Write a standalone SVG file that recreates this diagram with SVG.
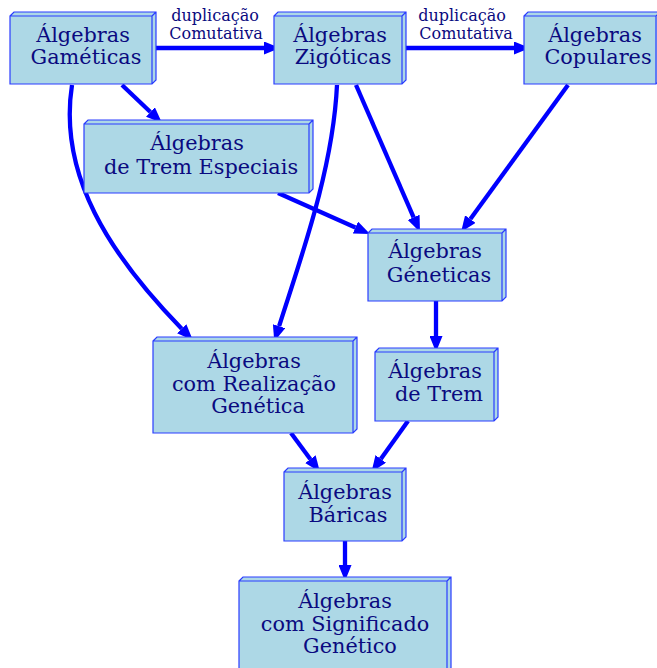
<svg xmlns="http://www.w3.org/2000/svg" width="657" height="668" viewBox="0 0 657 668">
<style>
.box{fill:#add8e6;stroke:#2a3cff;stroke-width:1.2;stroke-linejoin:miter}
.t{font-family:"DejaVu Serif",serif;font-size:20.8px;fill:#0a0a80;text-anchor:middle}
.lbl{font-family:"DejaVu Serif",serif;font-size:16px;fill:#0a0a80;text-anchor:middle}
.e{fill:none;stroke:#0000ff;stroke-width:4.3}
</style>
<defs>
<marker id="ah" markerUnits="userSpaceOnUse" markerWidth="16" markerHeight="13" viewBox="0 0 16 13" refX="0" refY="6.5" orient="auto">
<path d="M0,0 L16,6.5 L0,13 z" fill="#0000ff"/>
</marker>
</defs>
<g id="edges">
<path class="e" marker-end="url(#ah)" d="M155,48 L264,48"/>
<path class="e" marker-end="url(#ah)" d="M406,48 L514,48"/>
<path class="e" marker-end="url(#ah)" d="M122,85 L150.4,112"/>
<path class="e" marker-end="url(#ah)" d="M356,85 L413.6,217.3"/>
<path class="e" marker-end="url(#ah)" d="M568,85 L470.4,219.1"/>
<path class="e" marker-end="url(#ah)" d="M278,193 L355.4,227.5"/>
<path class="e" marker-end="url(#ah)" d="M436,301 L436,336"/>
<path class="e" marker-end="url(#ah)" d="M291,433 L310.4,459.2"/>
<path class="e" marker-end="url(#ah)" d="M408,421 L380.8,458.9"/>
<path class="e" marker-end="url(#ah)" d="M345,541 L345,565"/>
<path class="e" marker-end="url(#ah)" d="M72,85 C58,175 110,255 181.7,328.7"/>
<path class="e" marker-end="url(#ah)" d="M337,85 C333,170 300,260 279.1,326.2"/>
<text class="lbl" x="215" y="21">duplicação</text>
<text class="lbl" x="216" y="39">Comutativa</text>
<text class="lbl" x="462" y="21">duplicação</text>
<text class="lbl" x="466" y="39">Comutativa</text>
</g>
<g id="gameticas">
<path class="box" d="M10,16 L14,12 L156,12 L156,80 L152,84 L10,84 Z M152,16 L156,12 M10,16 L152,16 L152,84"/>
<text class="t" x="83" y="42">Álgebras</text>
<text class="t" x="86" y="64">Gaméticas</text>
</g>
<g id="zigoticas">
<path class="box" d="M274,16 L278,12 L406,12 L406,80 L402,84 L274,84 Z M402,16 L406,12 M274,16 L402,16 L402,84"/>
<text class="t" x="340" y="42">Álgebras</text>
<text class="t" x="343" y="64">Zigóticas</text>
</g>
<g id="copulares">
<path class="box" d="M524,16 L528,12 L660,12 L660,80 L656,84 L524,84 Z M656,16 L660,12 M524,16 L656,16 L656,84"/>
<text class="t" x="595" y="42">Álgebras</text>
<text class="t" x="598" y="64">Copulares</text>
</g>
<g id="tremespeciais">
<path class="box" d="M84,124 L88,120 L313,120 L313,189 L309,193 L84,193 Z M309,124 L313,120 M84,124 L309,124 L309,193"/>
<text class="t" x="197" y="150">Álgebras</text>
<text class="t" x="201" y="174">de Trem Especiais</text>
</g>
<g id="geneticas">
<path class="box" d="M368,233 L372,229 L506,229 L506,297 L502,301 L368,301 Z M502,233 L506,229 M368,233 L502,233 L502,301"/>
<text class="t" x="435" y="258">Álgebras</text>
<text class="t" x="439" y="282">Géneticas</text>
</g>
<g id="realizacao">
<path class="box" d="M153,341 L157,337 L357,337 L357,429 L353,433 L153,433 Z M353,341 L357,337 M153,341 L353,341 L353,433"/>
<text class="t" x="254" y="368">Álgebras</text>
<text class="t" x="254" y="391">com Realização</text>
<text class="t" x="258" y="413">Genética</text>
</g>
<g id="trem">
<path class="box" d="M375,352 L379,348 L498,348 L498,417 L494,421 L375,421 Z M494,352 L498,348 M375,352 L494,352 L494,421"/>
<text class="t" x="435" y="378">Álgebras</text>
<text class="t" x="439" y="401">de Trem</text>
</g>
<g id="baricas">
<path class="box" d="M284,472 L288,468 L406,468 L406,537 L402,541 L284,541 Z M402,472 L406,468 M284,472 L402,472 L402,541"/>
<text class="t" x="345" y="499">Álgebras</text>
<text class="t" x="348" y="522">Báricas</text>
</g>
<g id="significado">
<path class="box" d="M239,581 L243,577 L451,577 L451,668 L447,672 L239,672 Z M447,581 L451,577 M239,581 L447,581 L447,672"/>
<text class="t" x="345" y="608">Álgebras</text>
<text class="t" x="345" y="631">com Significado</text>
<text class="t" x="350" y="653">Genético</text>
</g>
</svg>
